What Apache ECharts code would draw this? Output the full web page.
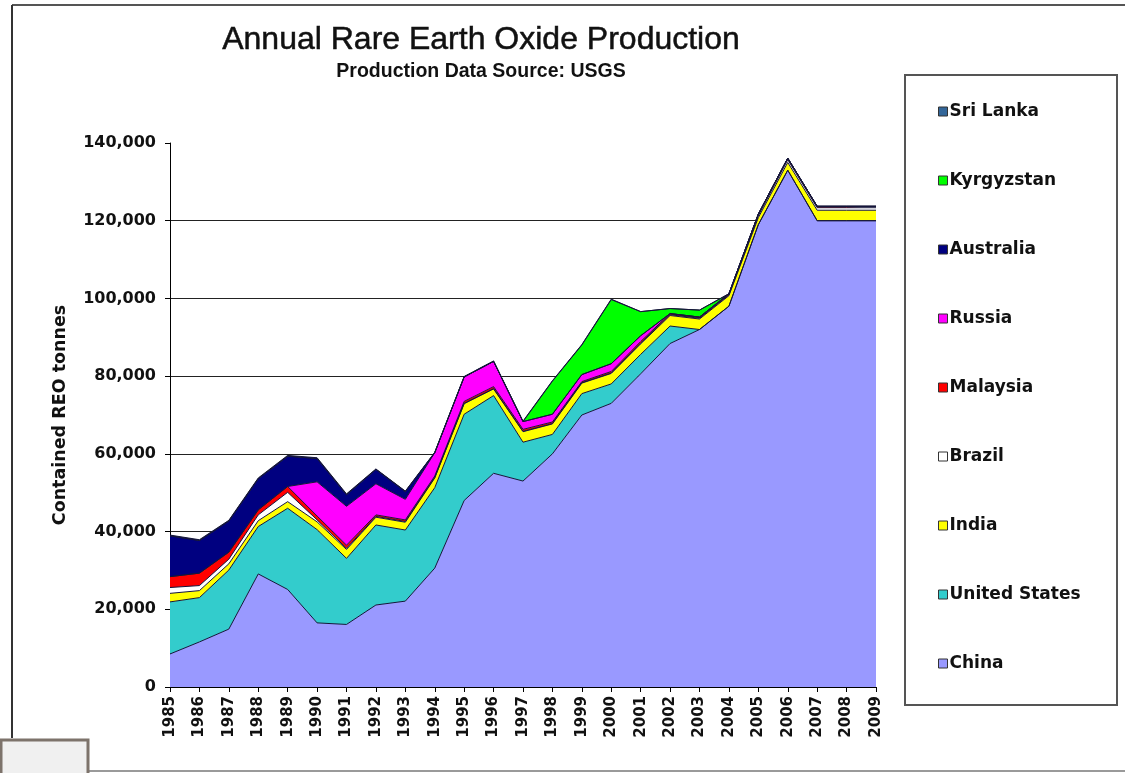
<!DOCTYPE html>
<html>
<head>
<meta charset="utf-8">
<title>Annual Rare Earth Oxide Production</title>
<script src="https://cdn.jsdelivr.net/npm/echarts@6/dist/echarts.min.js"></script>
<style>
  html, body { margin: 0; padding: 0; background: #ffffff; }
  #chart { width: 1125px; height: 773px; }
</style>
</head>
<body>
<div id="chart"></div>
<script>
// Production years
const years = ['1985','1986','1987','1988','1989','1990','1991','1992','1993','1994',
               '1995','1996','1997','1998','1999','2000','2001','2002','2003','2004',
               '2005','2006','2007','2008','2009'];

// Contained REO, tonnes per country and year
const china        = [8500, 11600, 14900, 29100, 25100, 16500, 16100, 21100, 22100, 30600,
                      48000, 55000, 53000, 60000, 70000, 73000, 80600, 88400, 92000, 98000,
                      119000, 133000, 120000, 120000, 120000];
const unitedStates = [13400, 11400, 15200, 12200, 20900, 24000, 17000, 20600, 18300, 20700,
                      22200, 20000, 10000, 5000, 5500, 5000, 5000, 4500, 0, 0,
                      0, 0, 0, 0, 0];
const india        = [2200, 1800, 1600, 1500, 1700, 2000, 2300, 2000, 2000, 2500,
                      2700, 1700, 2700, 2700, 2700, 2700, 2700, 2700, 2700, 2700,
                      1800, 2000, 2700, 2700, 2700];
const brazil       = [1500, 1300, 1200, 1500, 2400, 500, 300, 200, 200, 100,
                      100, 100, 100, 100, 100, 100, 200, 200, 200, 200,
                      500, 700, 650, 650, 650];
const malaysia     = [2800, 3200, 1800, 1300, 1500, 1000, 800, 400, 400, 400,
                      500, 500, 500, 400, 300, 400, 400, 300, 300, 300,
                      400, 400, 350, 350, 350];
const russia       = [0, 0, 0, 0, 0, 8800, 10000, 8000, 5300, 6000,
                      6300, 6500, 2000, 2000, 1800, 2000, 1500, 0, 0, 0,
                      0, 0, 0, 0, 0];
const australia    = [10500, 8400, 8000, 8000, 7800, 6000, 3000, 3700, 2000, 0,
                      0, 0, 0, 0, 0, 0, 0, 0, 0, 0,
                      0, 0, 0, 0, 0];
const kyrgyzstan   = [0, 0, 0, 0, 0, 0, 0, 0, 0, 0,
                      0, 0, 0, 8500, 7600, 16500, 6200, 1300, 1800, 0,
                      0, 0, 0, 0, 0];
const sriLanka     = [200, 200, 200, 200, 200, 200, 200, 120, 120, 120,
                      120, 120, 120, 120, 120, 120, 0, 0, 0, 0,
                      0, 0, 0, 0, 0];

// Y axis ticks
const yTicks = [0, 20000, 40000, 60000, 80000, 100000, 120000, 140000];

// Stack order, bottom to top
const layers = [
  { name: 'China',         data: china,        color: '#9999FF' },
  { name: 'United States', data: unitedStates, color: '#33CCCC' },
  { name: 'India',         data: india,        color: '#FFFF00' },
  { name: 'Brazil',        data: brazil,       color: '#FFFFFF' },
  { name: 'Malaysia',      data: malaysia,     color: '#FF0000' },
  { name: 'Russia',        data: russia,       color: '#FF00FF' },
  { name: 'Australia',     data: australia,    color: '#000080' },
  { name: 'Kyrgyzstan',    data: kyrgyzstan,   color: '#00FF00' },
  { name: 'Sri Lanka',     data: sriLanka,     color: '#336699' }
];

const xTickFont = { fontFamily: 'DejaVu Sans', fontWeight: 'bold', fontSize: 15, color: '#111' };
const yTickFont = { fontFamily: 'DejaVu Sans', fontWeight: 'bold', fontSize: 16, color: '#111' };

const chart = echarts.init(document.getElementById('chart'), null, { renderer: 'canvas' });

const option = {
  backgroundColor: '#ffffff',
  animation: false,
  graphic: [
    // outer frame
    { type: 'line', shape: { x1: 12, y1: 5, x2: 1125, y2: 5 }, style: { stroke: '#555', lineWidth: 2 }, z: 0 },
    { type: 'line', shape: { x1: 12, y1: 5, x2: 12, y2: 738 }, style: { stroke: '#333', lineWidth: 2 }, z: 0 },
    { type: 'line', shape: { x1: 88, y1: 771, x2: 1125, y2: 771 }, style: { stroke: '#9a9a9a', lineWidth: 2 }, z: 0 },
    { type: 'rect', shape: { x: 1, y: 740, width: 87, height: 40 }, style: { fill: '#f0f0f0', stroke: '#7d736b', lineWidth: 3 }, z: 0 },
    // legend box
    { type: 'rect', shape: { x: 905, y: 75, width: 212, height: 630 }, style: { fill: '#ffffff', stroke: '#555', lineWidth: 2 }, z: 0 },
    // headings
    { type: 'text', x: 481, y: 40, style: { text: 'Annual Rare Earth Oxide Production', fill: '#111',
        font: 'normal 32px "Liberation Sans", Arial, sans-serif', align: 'center', verticalAlign: 'middle',
        stroke: '#111', lineWidth: 0.5 }, z: 5 },
    { type: 'text', x: 481, y: 72, style: { text: 'Production Data Source: USGS', fill: '#111',
        font: 'bold 19.5px "Liberation Sans", Arial, sans-serif', align: 'center', verticalAlign: 'middle' }, z: 5 }
  ],
  legend: {
    orient: 'vertical',
    left: 933,
    top: 98,
    itemGap: 52,
    itemWidth: 9,
    itemHeight: 9,
    icon: 'rect',
    selectedMode: false,
    data: layers.map(l => l.name).reverse(),
    itemStyle: { borderColor: '#333', borderWidth: 1 },
    textStyle: { fontFamily: 'DejaVu Sans', fontWeight: 'bold', fontSize: 17, color: '#111', lineHeight: 16, padding: [0, 0, 0, -3] }
  },
  grid: {
    left: 170, right: 249, top: 143, bottom: 86,
    containLabel: false,
    outerBoundsMode: 'none'
  },
  xAxis: {
    type: 'category',
    data: years,
    boundaryGap: false,
    axisLine: { show: true, lineStyle: { color: '#000', width: 1 } },
    axisTick: { show: true, interval: 0, length: 5, lineStyle: { color: '#000' } },
    axisLabel: Object.assign({ interval: 0, rotate: 90, margin: 9 }, xTickFont),
    splitLine: { show: false }
  },
  yAxis: {
    type: 'value',
    min: yTicks[0],
    max: yTicks[yTicks.length - 1],
    interval: yTicks[1] - yTicks[0],
    name: 'Contained REO tonnes',
    nameLocation: 'middle',
    nameRotate: 90,
    nameGap: 101,
    nameTextStyle: { fontFamily: 'DejaVu Sans', fontWeight: 'bold', fontSize: 17.5, color: '#111' },
    axisLine: { show: true, lineStyle: { color: '#000', width: 1 } },
    axisTick: { show: true, length: 5, lineStyle: { color: '#000' } },
    axisLabel: Object.assign({
      margin: 14,
      formatter: v => v.toString().replace(/\B(?=(\d{3})+(?!\d))/g, ',')
    }, yTickFont),
    splitLine: {
      show: true,
      lineStyle: {
        width: 1,
        color: yTicks.map((t, i) => (i === yTicks.length - 1 ? 'rgba(0,0,0,0)' : '#222'))
      }
    }
  },
  series: layers.map(l => ({
    name: l.name,
    type: 'line',
    stack: 'reo',
    data: l.data,
    symbol: 'none',
    showSymbol: false,
    smooth: false,
    lineStyle: { width: 1, color: '#15153a' },
    itemStyle: { color: l.color },
    areaStyle: { color: l.color, opacity: 1 },
    emphasis: { disabled: true },
    silent: true
  }))
};

chart.setOption(option);
</script>
</body>
</html>
